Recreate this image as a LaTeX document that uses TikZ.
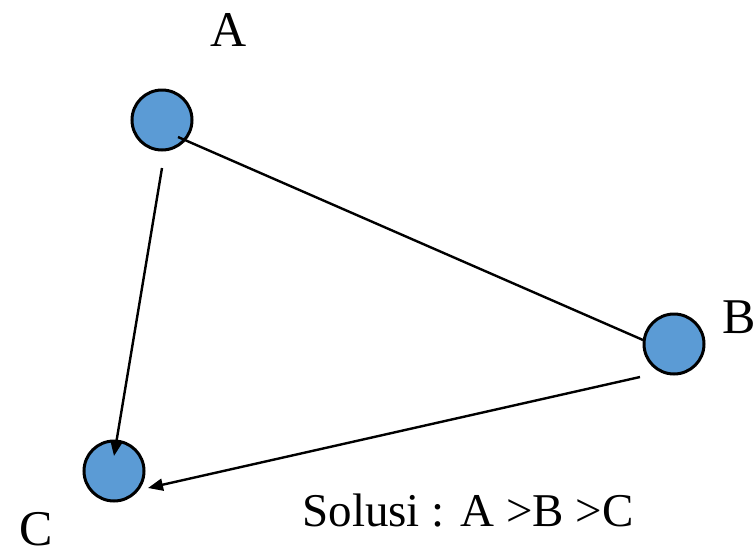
\documentclass[tikz,border=0pt]{standalone}
\usepackage{fontspec}
\setmainfont{Liberation Serif}
\usepackage{tikz}
\usetikzlibrary{arrows.meta,positioning}
\definecolor{vertexblue}{HTML}{5B9BD5}

\begin{document}
\begin{tikzpicture}[
  x=1pt, y=-1pt,
  >={Triangle[length=15pt,width=12pt]},
  vertex/.style={
    circle,
    draw=black,
    fill=vertexblue,
    line width=3pt,
    minimum size=60pt,
    inner sep=0pt
  },
  vlabel/.style={
    font=\fontsize{50}{54}\selectfont,
    inner sep=0pt
  },
  edge/.style={
    line width=2.4pt,
    black
  }
]
  \useasboundingbox (0,0) rectangle (756,558);

  % --- Vertices ---
  \node[vertex] (a) at (162,120) {};
  \node[vertex] (b) at (674,344) {};
  \node[vertex] (c) at (114,471) {};

  % --- Vertex labels ---
  \node[vlabel] (la) at (229,30) {A};
  \node[vlabel] (lb) at (739,317) {B};
  \node[vlabel] (lc) at (36,529) {C};

  % --- Edge end points ---
  \coordinate (astart) at (178,137);
  \coordinate (bend) at (643,340);
  \coordinate (asouth) at (162,168);
  \coordinate (ctop) at (114,456);
  \coordinate (bstart) at (640,377);
  \coordinate (ceast) at (148,488);

  % --- Edges ---
  \draw[edge] (astart) -- (bend);
  \draw[edge, ->] (asouth) -- (ctop);
  \draw[edge, ->] (bstart) -- (ceast);

  % Solution text
  \node[vlabel, font=\fontsize{47}{50}\selectfont] (sol) at (468,511) {Solusi : A >B >C};

\end{tikzpicture}
\end{document}
